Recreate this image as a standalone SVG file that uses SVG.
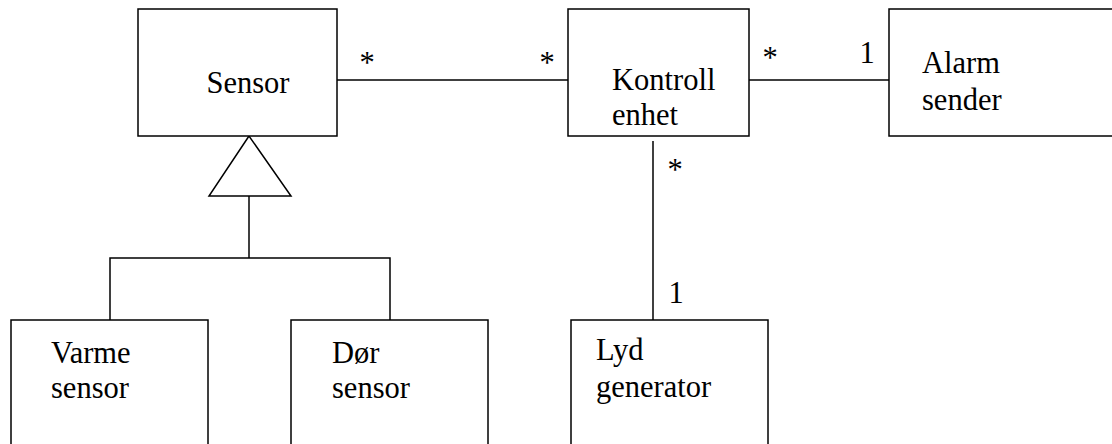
<svg xmlns="http://www.w3.org/2000/svg" width="1112" height="444" viewBox="0 0 1112 444" font-family="Liberation Serif, DejaVu Serif, serif" font-size="30.5">
<style>
.box{fill:#fff;stroke:#000;stroke-width:1.5}
.ln{fill:none;stroke:#000;stroke-width:1.5}
</style>
<rect width="1112" height="444" fill="#fff"/>
<g id="connectors">
<line class="ln" x1="337" y1="80" x2="568" y2="80"/>
<line class="ln" x1="749" y1="80" x2="889" y2="80"/>
<line class="ln" x1="653" y1="141" x2="653" y2="320"/>
<polygon class="ln" points="249,136 209,196 291,196"/>
<polyline class="ln" points="249,196 249,258"/>
<polyline class="ln" points="110,320 110,258 390,258 390,320"/>
<text x="367" y="73" text-anchor="middle">*</text>
<text x="547" y="73" text-anchor="middle">*</text>
<text x="770" y="68" text-anchor="middle">*</text>
<text x="867" y="63" text-anchor="middle">1</text>
<text x="675" y="180" text-anchor="middle">*</text>
<text x="676" y="303" text-anchor="middle">1</text>
</g>
<g id="sensor">
<rect class="box" x="138" y="9" width="199" height="127"/>
<text x="248" y="93" text-anchor="middle">Sensor</text>
</g>
<g id="kontroll">
<rect class="box" x="568" y="9" width="181" height="127"/>
<text x="612" y="90">Kontroll</text>
<text x="612" y="125">enhet</text>
</g>
<g id="alarm">
<rect class="box" x="889" y="9" width="240" height="127"/>
<text x="922" y="73">Alarm</text>
<text x="922" y="110">sender</text>
</g>
<g id="varme">
<rect class="box" x="11" y="320" width="197" height="140"/>
<text x="51" y="363">Varme</text>
<text x="51" y="398">sensor</text>
</g>
<g id="dor">
<rect class="box" x="291" y="320" width="197" height="140"/>
<text x="332" y="363">Dør</text>
<text x="332" y="398">sensor</text>
</g>
<g id="lyd">
<rect class="box" x="571" y="320" width="197" height="140"/>
<text x="596" y="360">Lyd</text>
<text x="596" y="397">generator</text>
</g>
</svg>
